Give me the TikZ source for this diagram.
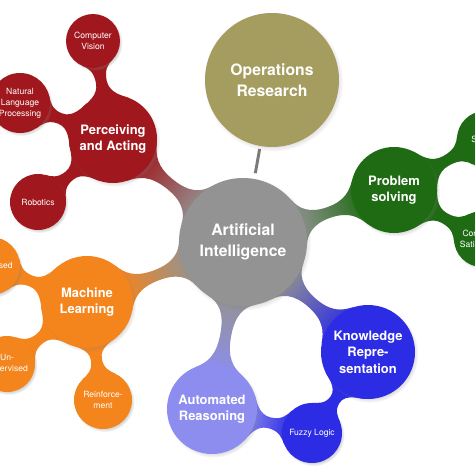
\documentclass[tikz,border=0pt]{standalone}
\usepackage{fontspec}
\setsansfont{TeX Gyre Heros}
\usetikzlibrary{shadows}
\pgfdeclarelayer{paper}
\pgfdeclarelayer{necks}
\pgfsetlayers{paper,necks,main}

\definecolor{aigray}{HTML}{939393}
\definecolor{orolive}{HTML}{A59D5F}
\definecolor{pared}{HTML}{A0181D}
\definecolor{psgreen}{HTML}{1F6B14}
\definecolor{mlorange}{HTML}{F4841C}
\definecolor{arlilac}{HTML}{8D8DF0}
\definecolor{krblue}{HTML}{2C2CE4}

\tikzset{bubble/.style = {circle, inner sep=0pt, minimum size=#1*0.5mm, text=white, align=center,
                          circular drop shadow={shadow xshift=1pt, shadow yshift=-1.3pt, shadow scale=1.04, opacity=.4}},
         bigtext/.style = {font=\sffamily\bfseries\fontsize{11.2}{14.6}\selectfont},
         midtext/.style = {font=\sffamily\bfseries\fontsize{9.2}{11.8}\selectfont},
         smalltext/.style = {font=\sffamily\fontsize{6.1}{7.7}\selectfont},
         link/.style = {draw=black!52, line width=2.1pt, shorten <=2pt, shorten >=4pt}}

% neck between two bubbles: nodes, radii (px), colours
\newcommand\neck[6]{%
  \pgfpointdiff{\pgfpointanchor{#1}{center}}{\pgfpointanchor{#2}{center}}%
  \pgfgetlastxy{\nkdx}{\nkdy}%
  \pgfmathsetmacro\nkang{atan2(\nkdy,\nkdx)}%
  \pgfmathsetmacro\nkshade{\nkang+90}%
  \pgfmathsetmacro\nkd{veclen(\nkdx,\nkdy)/0.711319}%
  \pgfmathsetmacro\nkxm{(#3+\nkd-#4)/2}%
  \pgfmathsetmacro\nksa{min(0.574,24/#3)}%
  \pgfmathsetmacro\nkca{sqrt(1-\nksa*\nksa)}%
  \pgfmathsetmacro\nksb{min(0.574,24/#4)}%
  \pgfmathsetmacro\nkcb{sqrt(1-\nksb*\nksb)}%
  \pgfmathsetmacro\nkax{#3*\nkca}%
  \pgfmathsetmacro\nkay{#3*\nksa}%
  \pgfmathsetmacro\nkbx{\nkd-#4*\nkcb}%
  \pgfmathsetmacro\nkby{#4*\nksb}%
  \pgfmathsetmacro\nkta{0.35*(\nkxm-\nkax)}%
  \pgfmathsetmacro\nkwa{0.6*(\nkxm-\nkax)}%
  \pgfmathsetmacro\nktb{0.35*(\nkbx-\nkxm)}%
  \pgfmathsetmacro\nkwb{0.6*(\nkbx-\nkxm)}%
  \begin{pgfonlayer}{necks}
  \begin{scope}[shift={(#1)}, rotate=\nkang, x=0.25mm, y=0.25mm]
    \shade[top color=#5, bottom color=#6, shading angle=\nkshade]
      (\nkax,\nkay) .. controls +(\nksa*\nkta,-\nkca*\nkta) and +(-\nkwa,0) .. (\nkxm,5.5)
      .. controls +(\nkwb,0) and +(-\nksb*\nktb,-\nkcb*\nktb) .. (\nkbx,\nkby)
      -- (\nkbx,-\nkby) .. controls +(-\nksb*\nktb,\nkcb*\nktb) and +(\nkwb,0) .. (\nkxm,-5.5)
      .. controls +(-\nkwa,0) and +(\nksa*\nkta,\nkca*\nkta) .. (\nkax,-\nkay) -- cycle;
  \end{scope}
  \end{pgfonlayer}}

\begin{document}
\begin{tikzpicture}[x=0.25mm, y=-0.25mm]
    \useasboundingbox (0,0) rectangle (474,474);
    \begin{pgfonlayer}{paper}
        \fill[white] (0,0) rectangle (474,474);
    \end{pgfonlayer}

    % hub and branches
    \node[bubble=64, fill=aigray, bigtext] (ai) at (243,242) {Artificial\\Intelligence};
    \node[bubble=67, fill=orolive, bigtext] (or) at (272,80) {Operations\\Research};
    \node[bubble=44, fill=pared, midtext] (pa) at (113,139) {Perceiving\\and Acting};
    \node[bubble=43, fill=psgreen, midtext] (ps) at (394,190) {Problem\\solving};
    \node[bubble=46, fill=mlorange, midtext] (ml) at (87,302) {Machine\\Learning};
    \node[bubble=45, fill=arlilac, midtext] (ar) at (212,409) {Automated\\Reasoning};
    \node[bubble=47, fill=krblue, midtext] (kr) at (368,352) {Knowledge\\Repre-\\sentation};

    % leaves
    \node[bubble=27, fill=pared, smalltext] (cv) at (93,41) {Computer\\Vision};
    \node[bubble=30, fill=pared, smalltext] (nlp) at (20,103) {Natural\\Language\\Processing};
    \node[bubble=28, fill=pared, smalltext] (rob) at (38,202) {Robotics};
    \node[bubble=28, fill=psgreen, smalltext] (sea) at (485,139) {Search};
    \node[bubble=28, fill=psgreen, smalltext] (csat) at (482,239) {Constraint\\Satisfaction};
    \node[bubble=29, fill=mlorange, smalltext] (sup) at (-9,266) {Supervised};
    \node[bubble=28, fill=mlorange, smalltext] (uns) at (7,364) {Un-\\supervised};
    \node[bubble=29, fill=mlorange, smalltext] (rein) at (103,400) {Reinforce-\\ment};
    \node[bubble=30, fill=krblue, smalltext] (fl) at (312,433) {Fuzzy Logic};

    \draw[link] (or) -- (ai);

    \neck{ai}{pa}{64}{44}{aigray}{pared}
    \neck{ai}{ps}{64}{43}{aigray}{psgreen}
    \neck{ai}{ml}{64}{46}{aigray}{mlorange}
    \neck{ai}{ar}{64}{45}{aigray}{arlilac}
    \neck{ai}{kr}{64}{47}{aigray}{krblue}
    \neck{pa}{cv}{44}{27}{pared}{pared}
    \neck{pa}{nlp}{44}{30}{pared}{pared}
    \neck{pa}{rob}{44}{28}{pared}{pared}
    \neck{ps}{sea}{43}{28}{psgreen}{psgreen}
    \neck{ps}{csat}{43}{28}{psgreen}{psgreen}
    \neck{ml}{sup}{46}{29}{mlorange}{mlorange}
    \neck{ml}{uns}{46}{28}{mlorange}{mlorange}
    \neck{ml}{rein}{46}{29}{mlorange}{mlorange}
    \neck{kr}{fl}{47}{30}{krblue}{krblue}
    \neck{ar}{fl}{45}{30}{arlilac}{krblue}
\end{tikzpicture}
\end{document}
